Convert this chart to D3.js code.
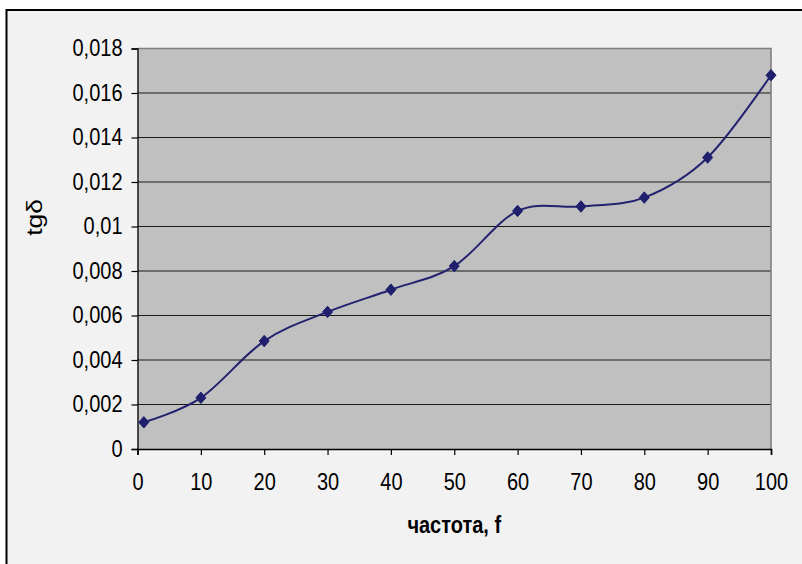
<!DOCTYPE html>
<html>
<head>
<meta charset="utf-8">
<script src="https://cdn.jsdelivr.net/npm/d3@7/dist/d3.min.js"></script>
<style>
  html, body { margin: 0; padding: 0; background: #ffffff; }
  svg { display: block; }
  text { font-family: "Liberation Sans", Arial, sans-serif; fill: #000; }
</style>
</head>
<body>
<svg id="chart" width="802" height="564"></svg>
<script>
// Loss tangent versus frequency
const frequency = [1, 10, 20, 30, 40, 50, 60, 70, 80, 90, 100];
const tgDelta   = [0.0012, 0.0023, 0.00485, 0.00616, 0.00716, 0.00822, 0.0107, 0.0109, 0.0113, 0.0131, 0.0168];

const xTicks = [0, 10, 20, 30, 40, 50, 60, 70, 80, 90, 100];
const yTicks = [0, 0.002, 0.004, 0.006, 0.008, 0.01, 0.012, 0.014, 0.016, 0.018];
const yTickLabels = ["0", "0,002", "0,004", "0,006", "0,008", "0,01", "0,012", "0,014", "0,016", "0,018"];

const xTitle = "частота, f";
const yTitle = "tgδ";

const W = 802, H = 564;
const plot = { left: 137.5, right: 771, top: 48.5, bottom: 449 };
const stretch = 1.2;   // text is drawn slightly taller than wide
const fontSize = 20;

const svg = d3.select("#chart");

// chart frame
svg.append("rect")
  .attr("x", 6.5).attr("y", 10)
  .attr("width", W + 20).attr("height", H + 20)
  .attr("fill", "#f2f2f2")
  .attr("stroke", "#000").attr("stroke-width", 2);

const x = d3.scaleLinear().domain([0, 100]).range([plot.left, plot.right]);
const y = d3.scaleLinear().domain([0, 0.018]).range([plot.bottom, plot.top]);

// plot area
svg.append("rect")
  .attr("x", plot.left).attr("y", plot.top)
  .attr("width", plot.right - plot.left).attr("height", plot.bottom - plot.top)
  .attr("fill", "#c0c0c0");

// horizontal gridlines
svg.append("g")
  .selectAll("line")
  .data(yTicks.filter(v => v > 0 && v < 0.018))
  .join("line")
  .attr("x1", plot.left).attr("x2", plot.right)
  .attr("y1", d => y(d)).attr("y2", d => y(d))
  .attr("stroke", "#1a1a1a").attr("stroke-width", 1.2);

// top and right border of the plot area
svg.append("path")
  .attr("d", `M${plot.left},${y(0.018)}H${plot.right}V${plot.bottom}`)
  .attr("fill", "none")
  .attr("stroke", "#7f7f7f").attr("stroke-width", 1.6);

// y axis
const yAxis = svg.append("g")
  .attr("transform", `translate(${plot.left},0)`)
  .call(d3.axisLeft(y)
    .tickValues(yTicks)
    .tickFormat((d, i) => yTickLabels[i])
    .tickSize(6).tickPadding(9));
yAxis.select(".domain").attr("stroke", "#000").attr("stroke-width", 1.3);
yAxis.selectAll(".tick line").attr("stroke", "#000").attr("stroke-width", 1.2);
yAxis.selectAll(".tick text")
  .attr("font-size", fontSize)
  .attr("dy", "0.3em")
  .attr("x", -15)
  .attr("transform", `scale(1,${stretch})`)
  .style("font-family", "'Liberation Sans', Arial, sans-serif");

// x axis
const xAxis = svg.append("g")
  .attr("transform", `translate(0,${plot.bottom})`)
  .call(d3.axisBottom(x)
    .tickValues(xTicks)
    .tickFormat(d3.format("d"))
    .tickSize(6));
xAxis.select(".domain").attr("stroke", "#000").attr("stroke-width", 1.6);
xAxis.selectAll(".tick line").attr("stroke", "#000").attr("stroke-width", 1.2);
xAxis.selectAll(".tick text")
  .attr("font-size", fontSize)
  .attr("y", 41 / stretch)
  .attr("dy", 0)
  .attr("transform", `scale(1,${stretch})`)
  .style("font-family", "'Liberation Sans', Arial, sans-serif");
svg.selectAll(".domain").attr("fill", "none");

// axis titles
svg.append("text")
  .attr("transform", `translate(${(plot.left + plot.right) / 2},533) scale(1,${stretch})`)
  .attr("text-anchor", "middle")
  .attr("font-size", fontSize)
  .attr("font-weight", "bold")
  .text(xTitle);

svg.append("text")
  .attr("transform", `translate(42,217.5) scale(1,${stretch}) rotate(-90)`)
  .attr("text-anchor", "middle")
  .attr("font-size", 22)
  .text(yTitle);

// smoothed data line
const points = frequency.map((f, i) => [f, tgDelta[i]]);
const line = d3.line()
  .x(d => x(d[0]))
  .y(d => y(d[1]))
  .curve(d3.curveCatmullRom.alpha(0));

svg.append("path")
  .datum(points)
  .attr("d", line)
  .attr("fill", "none")
  .attr("stroke", "#22226f")
  .attr("stroke-width", 2);

// diamond markers, a little taller than wide
const diamond = {
  draw(ctx, size) {
    const w = Math.sqrt(size) / 2, h = w * 1.15;
    ctx.moveTo(0, -h); ctx.lineTo(w, 0); ctx.lineTo(0, h); ctx.lineTo(-w, 0); ctx.closePath();
  }
};
svg.append("g")
  .selectAll("path")
  .data(points)
  .join("path")
  .attr("transform", d => `translate(${x(d[0])},${y(d[1])})`)
  .attr("d", d3.symbol().type(diamond).size(100))
  .attr("fill", "#1f1f6e")
  .attr("stroke", "#1f1f6e")
  .attr("stroke-width", 1);
</script>
</body>
</html>
